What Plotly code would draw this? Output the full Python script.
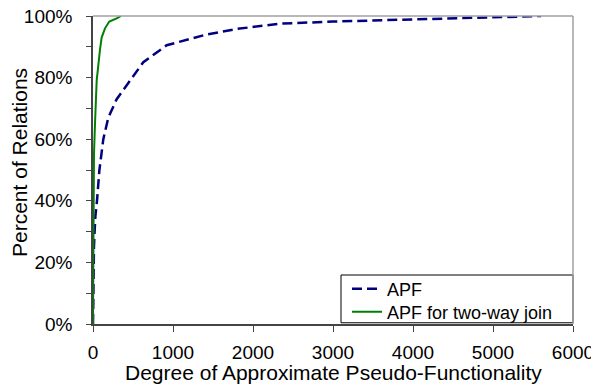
import plotly.graph_objects as go

apf_x = [0, 5, 12, 20, 30, 50, 80, 129, 191, 296, 462, 629, 921, 1129, 1421, 1796, 2337, 3000, 3800, 4600, 5600]
apf_y = [0, 15, 25, 30, 35, 40, 50, 60, 67, 73, 79, 85, 90.5, 92, 94, 95.8, 97.5, 98.2, 98.7, 99.3, 100]

two_x = [0, 3, 5, 12, 25, 46, 87, 108, 150, 204, 296, 350]
two_y = [0, 30, 40, 55, 65, 79, 89, 93, 96, 98.2, 99.2, 100]

x_ticks = [0, 1000, 2000, 3000, 4000, 5000, 6000]
y_ticks = [0, 20, 40, 60, 80, 100]
y_labels = ["0%", "20%", "40%", "60%", "80%", "100%"]

FONT = "Liberation Sans, Arial, sans-serif"
OFF = 8  # page body margin

fig = go.Figure()
fig.add_trace(go.Scatter(x=apf_x, y=apf_y, mode="lines", name="APF", legend="legend",
                         line=dict(color="#000080", width=2.5, dash="10px,5px")))
fig.add_trace(go.Scatter(x=two_x, y=two_y, mode="lines", name="APF for two-way join",
                         legend="legend2",
                         line=dict(color="#008000", width=2)))

leg_common = dict(xanchor="left", yanchor="middle", bgcolor="rgba(0,0,0,0)",
                  borderwidth=0, font=dict(size=18), itemwidth=30)

fig.update_layout(
    width=599 - OFF, height=385 - OFF,
    margin=dict(l=93 - OFF, r=26, t=16 - OFF, b=61, autoexpand=False),
    paper_bgcolor="white", plot_bgcolor="white",
    font=dict(family=FONT, size=18, color="#000000"),
    showlegend=True,
    legend=dict(x=(347 - 93) / 480, y=(324 - 289) / 308, **leg_common),
    legend2=dict(x=(347 - 93) / 480, y=(324 - 312) / 308, **leg_common),
    xaxis=dict(range=[0, 6000], tickvals=x_ticks, showgrid=False, zeroline=False,
               automargin=False, ticklabeloverflow="allow",
               showline=True, linecolor="#444444", linewidth=1.5,
               ticks="outside", ticklen=6, tickcolor="#444444",
               ticklabelstandoff=4,
               tickfont=dict(size=19)),
    yaxis=dict(range=[0, 100], tickvals=y_ticks, ticktext=y_labels, showgrid=False,
               automargin=False, ticklabeloverflow="allow",
               zeroline=False, showline=True, linecolor="#444444", linewidth=1.5,
               ticks="outside", ticklen=5, tickcolor="#444444",
               ticklabelstandoff=10,
               minor=dict(tickvals=[10, 30, 50, 70, 90], ticks="outside", ticklen=5,
                          tickcolor="#444444"),
               tickfont=dict(size=19)),
    shapes=[
        dict(type="line", xref="paper", yref="paper", x0=0, x1=1, y0=1, y1=1,
             line=dict(color="#a0a0a0", width=1.5)),
        dict(type="line", xref="paper", yref="paper", x0=1, x1=1, y0=0, y1=1,
             line=dict(color="#a0a0a0", width=1.5)),
        dict(type="rect", xref="paper", yref="paper", x0=(341 - 93) / 480, x1=1.0,
             y0=0.004, y1=(324 - 275) / 308, line=dict(color="#000000", width=1),
             fillcolor="white", layer="below"),
    ],
    annotations=[
        dict(text="Degree of Approximate Pseudo-Functionality", xref="paper", yref="paper",
             x=(333 - 93) / 480, y=-(372 - 324) / 308, xanchor="center", yanchor="middle",
             showarrow=False, font=dict(size=21)),
        dict(text="Percent of Relations", xref="paper", yref="paper",
             x=-(93 - 19) / 480, y=(324 - 163) / 308, xanchor="center", yanchor="middle",
             textangle=-90, showarrow=False, font=dict(size=21)),
    ],
)

fig.write_html("out.html")
